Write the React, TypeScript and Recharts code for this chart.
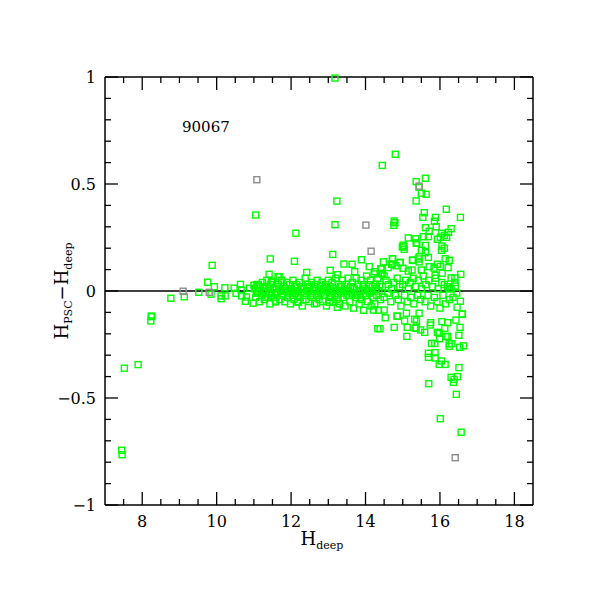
import React from 'react'
import { ScatterChart, Scatter, XAxis, YAxis, ReferenceLine } from 'recharts'

// [H_deep, H_PSC - H_deep]
const leftTail: [number, number][] = [
  [7.45, -0.744], [7.46, -0.765], [7.52, -0.361], [7.89, -0.344],
  [8.24, -0.117], [8.23, -0.14], [8.26, -0.12], [8.77, -0.034],
  [9.13, -0.027], [9.52, -0.006], [9.88, 0.12], [9.76, 0.041],
  [9.94, 0.02], [9.85, -0.015], [10.12, -0.023], [10.12, -0.036],
  [10.22, 0.015], [10.23, -0.023], [10.47, 0.013], [10.52, -0.011],
  [10.64, 0.031], [10.66, 0.005], [10.67, -0.023], [10.77, -0.048],
  [10.8, -0.028], [10.88, 0.013], [10.98, -0.057], [11.0, 0.027],
  [11.11, 0.022], [11.44, 0.15], [11.41, 0.078], [11.47, 0.045],
  [11.58, -0.051], [11.65, 0.067], [11.05, 0.355],
]

const band: [number, number][] = [
  [11.02, 0.01], [11.05, -0.03], [11.08, 0.03], [11.1, -0.01], [11.13, 0.0],
  [11.15, -0.05], [11.18, 0.02], [11.2, -0.02], [11.23, 0.04], [11.25, 0.0],
  [11.28, -0.04], [11.3, 0.02], [11.33, -0.01], [11.35, 0.05], [11.38, -0.03],
  [11.4, 0.01], [11.43, -0.06], [11.45, 0.03], [11.48, -0.02], [11.5, 0.04],
  [11.12, 0.03], [11.27, 0.02], [11.42, -0.01], [11.07, -0.01], [11.32, -0.03],
  [11.52, 0.01], [11.55, -0.03], [11.6, 0.02], [11.62, -0.01], [11.66, 0.03],
  [11.7, -0.04], [11.72, 0.0], [11.75, 0.05], [11.78, -0.02], [11.8, 0.02],
  [11.83, -0.05], [11.85, 0.01], [11.88, 0.04], [11.9, -0.03], [11.93, 0.0],
  [11.96, 0.03], [11.98, -0.06], [12.0, 0.01], [12.03, -0.02], [12.05, 0.05],
  [12.08, -0.04], [12.1, 0.02], [12.12, -0.01], [12.15, 0.03], [12.18, -0.05],
  [12.2, 0.0], [12.23, 0.04], [12.25, -0.03], [12.28, 0.02], [12.3, -0.07],
  [12.33, 0.01], [12.35, -0.02], [12.38, 0.06], [12.4, -0.04], [12.43, 0.0],
  [12.45, 0.03], [12.48, -0.05], [12.5, 0.02], [12.53, -0.01], [12.55, 0.04],
  [12.58, -0.03], [12.6, 0.01], [12.63, -0.06], [12.65, 0.03], [12.68, -0.02],
  [12.7, 0.05], [12.73, 0.0], [12.75, -0.04], [12.78, 0.02], [12.8, -0.01],
  [12.83, 0.04], [12.85, -0.05], [12.88, 0.01], [12.9, -0.02], [12.93, 0.03],
  [12.95, -0.07], [12.98, 0.0], [13.0, 0.05], [13.03, -0.03], [13.05, 0.02],
  [13.08, -0.01], [13.1, 0.04], [13.13, -0.05], [13.15, 0.01], [13.18, -0.02],
  [13.2, 0.06], [13.23, -0.04], [13.25, 0.0], [13.28, 0.03], [13.3, -0.06],
  [13.33, 0.02], [13.35, -0.01], [13.38, 0.05], [13.4, -0.03], [13.43, 0.01],
  [13.45, -0.07], [13.48, 0.03], [13.5, -0.02], [13.53, 0.06], [13.55, 0.0],
  [13.58, -0.05], [13.6, 0.02], [13.63, -0.01], [13.65, 0.04], [13.68, -0.08],
  [13.7, 0.01], [13.73, -0.03], [13.75, 0.06], [13.78, -0.02], [13.8, 0.03],
  [13.83, -0.06], [13.85, 0.0], [13.88, 0.05], [13.9, -0.04], [13.93, 0.02],
  [13.95, -0.09], [13.98, 0.01], [14.0, -0.02], [14.03, 0.07], [14.05, -0.05],
  [14.08, 0.03], [14.1, -0.01], [14.13, 0.05], [14.15, -0.07], [14.18, 0.02],
  [14.2, -0.03], [14.23, 0.08], [14.25, -0.06], [14.28, 0.01], [14.3, -0.02],
  [14.33, 0.06], [14.35, -0.09], [14.38, 0.03], [14.4, -0.04],
  [11.58, -0.01], [11.68, 0.01], [11.82, 0.0], [11.95, -0.01], [12.06, 0.0],
  [12.16, -0.02], [12.26, 0.01], [12.36, -0.01], [12.46, 0.0], [12.56, -0.02],
  [12.66, 0.01], [12.76, 0.0], [12.86, -0.02], [12.96, 0.02], [13.06, -0.02],
  [13.16, 0.0], [13.26, -0.03], [13.36, 0.02], [13.46, 0.0], [13.56, -0.02],
  [13.66, 0.02], [13.76, -0.01], [13.86, -0.03], [13.96, 0.03], [14.06, 0.0],
  [14.16, 0.0], [14.26, 0.03], [14.36, 0.0],
  [14.45, 0.02], [14.5, -0.03], [14.55, 0.05], [14.6, -0.01], [14.62, 0.03],
  [14.68, -0.05], [14.7, 0.01], [14.75, 0.04], [14.8, -0.02], [14.85, 0.06],
  [14.88, -0.04], [14.92, 0.02], [14.95, -0.07], [15.0, 0.03], [15.05, -0.02],
  [15.08, 0.05], [15.12, -0.05], [15.15, 0.01], [15.2, 0.04], [15.22, -0.03],
  [15.28, 0.06], [15.3, -0.06], [15.35, 0.02], [15.4, -0.02], [15.42, 0.05],
  [15.48, -0.04], [15.5, 0.01], [15.55, 0.07], [15.6, -0.05], [15.62, 0.03],
  [15.68, -0.02], [15.7, 0.05], [15.75, -0.07], [15.8, 0.02], [15.85, -0.03],
  [15.88, 0.06], [15.92, -0.05], [15.95, 0.01], [16.0, -0.08], [16.05, 0.04],
  [16.08, -0.02], [16.12, 0.03], [16.15, -0.06], [16.2, 0.02], [16.25, -0.04],
  [16.3, 0.01], [16.35, -0.03], [16.4, 0.04], [16.45, -0.01],
]

const upper: [number, number][] = [
  [12.09, 0.139], [13.12, 0.171], [13.89, 0.146], [13.42, 0.126], [13.64, 0.125],
  [13.05, 0.097], [12.42, 0.087], [13.25, 0.076], [13.71, 0.09], [14.1, 0.114],
  [14.25, 0.09], [14.42, 0.104], [14.45, 0.078], [14.73, 0.151], [14.72, 0.126],
  [14.93, 0.132], [15.01, 0.214], [14.99, 0.206], [15.36, 0.224], [15.27, 0.145],
  [15.42, 0.15], [11.68, 0.067], [12.13, 0.27], [13.23, 0.42], [13.18, 0.31],
  [13.18, 0.995],
  [14.8, 0.639], [14.45, 0.587], [15.36, 0.511], [15.61, 0.527], [15.44, 0.485],
  [15.5, 0.457], [15.63, 0.452], [15.36, 0.421], [16.17, 0.382], [15.58, 0.366],
  [15.54, 0.344], [15.88, 0.344], [16.55, 0.344], [14.77, 0.327], [14.79, 0.319],
  [14.76, 0.307], [15.85, 0.326], [16.3, 0.291], [15.61, 0.296], [15.71, 0.279],
  [15.9, 0.3], [16.23, 0.274], [16.05, 0.27], [16.12, 0.26], [16.18, 0.251],
  [16.01, 0.251], [15.93, 0.242], [15.55, 0.254], [15.69, 0.254], [15.15, 0.248],
  [15.35, 0.244], [15.38, 0.224], [15.61, 0.213], [15.03, 0.207], [15.04, 0.195],
  [15.5, 0.19], [16.05, 0.21], [16.04, 0.19], [16.12, 0.2], [15.61, 0.179],
  [15.69, 0.157], [15.44, 0.16], [16.14, 0.151], [16.25, 0.143], [15.26, 0.143],
  [14.72, 0.151], [14.48, 0.136], [14.93, 0.134], [15.44, 0.136], [14.7, 0.125],
  [14.82, 0.118], [15.93, 0.125], [16.22, 0.109], [16.01, 0.115], [14.41, 0.104],
  [14.61, 0.109], [15.01, 0.106], [15.15, 0.093], [15.25, 0.098], [15.5, 0.098],
  [15.71, 0.114], [15.84, 0.107], [16.56, 0.078], [16.3, 0.061], [15.87, 0.073],
  [16.06, 0.083], [16.4, 0.061], [16.41, 0.023], [16.25, 0.011], [14.42, 0.083],
  [14.5, 0.07],
]

const lower: [number, number][] = [
  [13.24, -0.076], [12.68, -0.057], [12.19, -0.053], [11.59, -0.047], [13.03, -0.053],
  [14.21, -0.089], [14.33, -0.176], [14.53, -0.125], [14.77, -0.17], [14.85, -0.118],
  [15.11, -0.212], [15.12, -0.17], [15.33, -0.173], [15.37, -0.14], [14.5, -0.089],
  [14.39, -0.176], [16.55, -0.048], [16.6, -0.107], [16.46, -0.076], [16.54, -0.17],
  [16.21, -0.212], [16.51, -0.207], [15.77, -0.245], [15.86, -0.245], [15.99, -0.223],
  [16.25, -0.246], [16.32, -0.246], [16.63, -0.256], [16.53, -0.263], [16.25, -0.258],
  [15.69, -0.291], [15.87, -0.288], [15.69, -0.31], [15.87, -0.313], [16.04, -0.327],
  [15.98, -0.343], [16.14, -0.343], [16.51, -0.358], [15.98, -0.198], [16.16, -0.213],
  [15.36, -0.174], [15.74, -0.159], [15.48, -0.182], [15.59, -0.193], [15.93, -0.193],
  [16.13, -0.174], [15.05, -0.14], [15.32, -0.132], [15.75, -0.148], [16.21, -0.148],
  [16.43, -0.136], [16.05, -0.143], [15.44, -0.104], [14.85, -0.117], [15.1, -0.104],
  [16.6, -0.109], [16.3, -0.403], [16.38, -0.413], [16.47, -0.4], [16.36, -0.427],
  [15.7, -0.433], [16.44, -0.483], [16.01, -0.597], [16.57, -0.66],
]

const grayPoints: [number, number][] = [
  [9.1, -0.001], [11.08, 0.52], [14.01, 0.308], [14.15, 0.186], [16.41, -0.779],
  [15.44, 0.49], [9.8, -0.006],
]

const xTicks = [7.5, 8, 8.5, 9, 9.5, 10, 10.5, 11, 11.5, 12, 12.5, 13, 13.5, 14, 14.5, 15, 15.5, 16, 16.5, 17, 17.5, 18]
const yTicks = [-1, -0.9, -0.8, -0.7, -0.6, -0.5, -0.4, -0.3, -0.2, -0.1, 0, 0.1, 0.2, 0.3, 0.4, 0.5, 0.6, 0.7, 0.8, 0.9, 1]

const toRows = (pts: [number, number][]) => pts.map(([h, d]) => ({ h, d }))
const greenData = toRows([...leftTail, ...band, ...upper, ...lower])
const grayData = toRows(grayPoints)

const PLOT = 428
const FONT = 'DejaVu Serif'

const isMajor = (v: number, step: number) => Math.abs(v / step - Math.round(v / step)) < 1e-6

const fmt = (v: number) => (v < 0 ? '\u2212' + String(-v) : String(v))

const XTick = (props: any) => {
  const { x, y, payload } = props
  const v = payload.value
  const major = isMajor(v, 2)
  const len = major ? 13 : 6
  return (
    <g>
      <line x1={x} y1={y} x2={x} y2={y - len} stroke="#000" strokeWidth={1.3} />
      <line x1={x} y1={y - PLOT} x2={x} y2={y - PLOT + len} stroke="#000" strokeWidth={1.3} />
      {major && (
        <text x={x} y={y + 22} textAnchor="middle" fontFamily={FONT} fontSize={16} fill="#000">
          {v}
        </text>
      )}
    </g>
  )
}

const YTick = (props: any) => {
  const { x, y, payload } = props
  const v = payload.value
  const major = isMajor(v, 0.5)
  const len = major ? 13 : 6
  return (
    <g>
      <line x1={x} y1={y} x2={x + len} y2={y} stroke="#000" strokeWidth={1.3} />
      <line x1={x + PLOT} y1={y} x2={x + PLOT - len} y2={y} stroke="#000" strokeWidth={1.3} />
      {major && (
        <text x={x - 9} y={y + 6} textAnchor="end" fontFamily={FONT} fontSize={16} fill="#000">
          {fmt(v)}
        </text>
      )}
    </g>
  )
}

const square = (color: string) => (props: any) => {
  const { cx, cy } = props
  return <rect x={cx - 3} y={cy - 3} width={6} height={6} fill="none" stroke={color} strokeWidth={1.4} />
}

export default function App() {
  return (
    <div style={{ position: 'relative', width: 595, height: 595 }}>
      <ScatterChart width={595} height={595} margin={{ top: 69, left: 37, right: 70, bottom: 68 }}>
        <XAxis
          type="number"
          dataKey="h"
          domain={[7, 18.5]}
          ticks={xTicks}
          interval={0}
          height={30}
          tickSize={0}
          tickMargin={0}
          axisLine={false}
          tickLine={false}
          tick={(p: any) => <XTick {...p} />}
        />
        <YAxis
          type="number"
          dataKey="d"
          domain={[-1, 1]}
          ticks={yTicks}
          interval={0}
          width={60}
          tickSize={0}
          tickMargin={0}
          axisLine={false}
          tickLine={false}
          tick={(p: any) => <YTick {...p} />}
        />
        <ReferenceLine y={0} stroke="#000" strokeWidth={1.3} />
        <ReferenceLine y={1} stroke="#000" strokeWidth={1.5} />
        <ReferenceLine y={-1} stroke="#000" strokeWidth={1.5} />
        <ReferenceLine x={7} stroke="#000" strokeWidth={1.5} />
        <ReferenceLine x={18.5} stroke="#000" strokeWidth={1.5} />
        <Scatter data={greenData} shape={square('#00ff00')} isAnimationActive={false} />
        <Scatter data={grayData} shape={square('#8c8c8c')} isAnimationActive={false} />
      </ScatterChart>
      <svg
        width={595}
        height={595}
        style={{ position: 'absolute', left: 0, top: 0, pointerEvents: 'none' }}
      >
        <text x={174} y={124} fontFamily={FONT} fontSize={15} fill="#000">
          90067
        </text>
        <text x={314} y={537} textAnchor="middle" fontFamily={FONT} fontSize={18} fill="#000">
          H
          <tspan fontSize={11} dy={4}>
            deep
          </tspan>
        </text>
        <text
          x={60}
          y={283}
          textAnchor="middle"
          fontFamily={FONT}
          fontSize={18}
          fill="#000"
          transform="rotate(-90 60 283)"
        >
          H
          <tspan fontSize={11} dy={4}>
            PSC
          </tspan>
          <tspan dy={-4}>{'\u2212'}H</tspan>
          <tspan fontSize={11} dy={4}>
            deep
          </tspan>
        </text>
      </svg>
    </div>
  )
}
